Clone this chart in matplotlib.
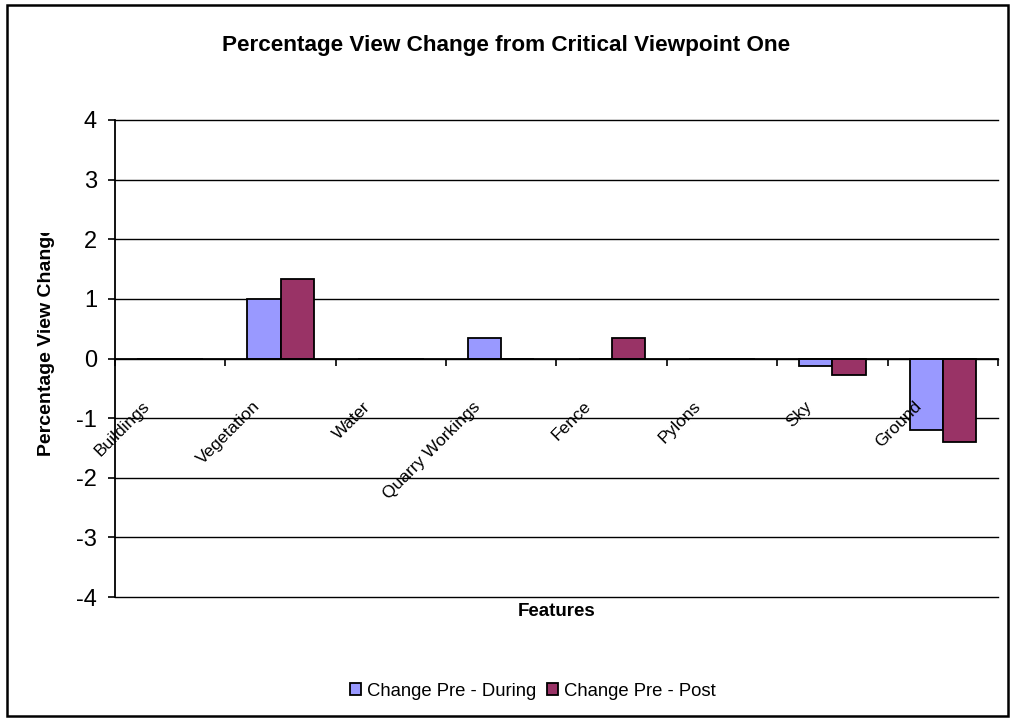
import matplotlib
matplotlib.use('Agg')
import matplotlib.pyplot as plt
from matplotlib.patches import Rectangle
from matplotlib.transforms import Bbox
import numpy as np

categories = ['Buildings', 'Vegetation', 'Water', 'Quarry Workings',
              'Fence', 'Pylons', 'Sky', 'Ground']
change_pre_during = [0, 1.0, 0, 0.35, 0, 0, -0.12, -1.2]
change_pre_post = [0, 1.33, 0, 0, 0.35, 0, -0.27, -1.4]
y_ticks = [-4, -3, -2, -1, 0, 1, 2, 3, 4]

plt.rcParams['font.family'] = ['Liberation Sans', 'DejaVu Sans']

W, H = 1012, 718
fig = plt.figure(figsize=(W / 100, H / 100), dpi=100)

# outer chart border
fig.patches.append(Rectangle((7 / W, 2 / H), 1001 / W, 711 / H, transform=fig.transFigure,
                             fill=False, edgecolor='black', linewidth=1.8))

L, R, T, B = 115, 998, 120, 597
ax = fig.add_axes([L / W, 1 - B / H, (R - L) / W, (B - T) / H])

x = np.arange(len(categories))
w = 0.3
ax.bar(x - w / 2, change_pre_during, w, color='#9999FF', edgecolor='black',
       linewidth=1.3, zorder=3, label='Change Pre - During')
ax.bar(x + w / 2, change_pre_post, w, color='#993366', edgecolor='black',
       linewidth=1.3, zorder=3, label='Change Pre - Post')

ax.set_xlim(-0.5, len(categories) - 0.5)
ax.set_ylim(-4, 4)
ax.set_yticks(y_ticks)
ax.set_yticklabels([str(v) for v in y_ticks], fontsize=17)
ax.yaxis.grid(True, color='black', linewidth=1.0)
for gl in ax.get_ygridlines():
    gl.set_clip_on(False)
ax.set_axisbelow(True)

for s in ['top', 'right']:
    ax.spines[s].set_visible(False)
ax.spines['bottom'].set_position(('data', 0))
ax.spines['bottom'].set_linewidth(1.3)
ax.spines['bottom'].set_zorder(4)
ax.spines['left'].set_linewidth(1.3)

ax.set_xticks(np.arange(-0.5, len(categories), 1.0))
ax.set_xticklabels([])
ax.tick_params(axis='x', direction='out', length=5, width=1.2)
ax.tick_params(axis='y', direction='out', length=5, width=1.2, pad=8)

for i, c in enumerate(categories):
    ax.annotate(c, xy=(i, 0), xytext=(-13, -29), textcoords='offset points',
                rotation=45, ha='right', va='top', fontsize=12.5)

fig.text(506 / W, 1 - 46 / H, 'Percentage View Change from Critical Viewpoint One',
         ha='center', va='center', fontsize=16.2, fontweight='bold')
fig.text(0.5 * (L + R) / W, 1 - 612 / H, 'Features', ha='center', va='center',
         fontsize=13.5, fontweight='bold')
yl = fig.text(47 / W, 1 - 341 / H, 'Percentage View Change', ha='center', va='center',
              rotation=90, fontsize=14, fontweight='bold')
yl.set_clip_box(Bbox([[0, 0], [W, H - 233]]))
yl.set_clip_on(True)

fig.legend(loc='center', bbox_to_anchor=(533 / W, 1 - 691 / H), ncol=2, frameon=False,
           fontsize=13.3, handlelength=0.6, handleheight=0.6, handletextpad=0.3,
           columnspacing=0.6)

fig.savefig('out.png', dpi=100)
